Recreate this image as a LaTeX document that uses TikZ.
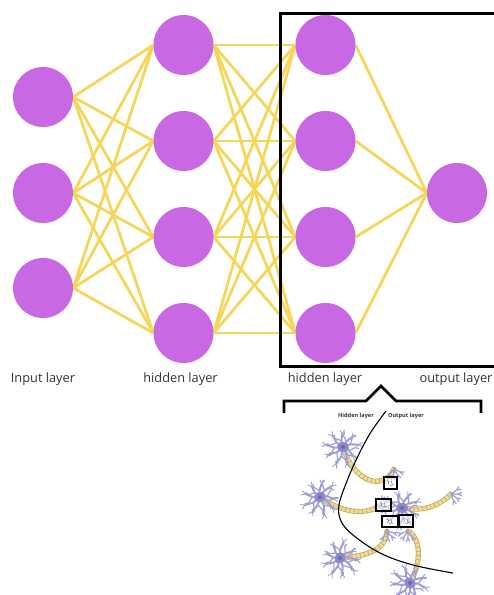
\documentclass[tikz,border=0pt]{standalone}
\usepackage{fontspec}
\setmainfont{Open Sans}
\definecolor{unitpurple}{HTML}{C868E2}
\definecolor{linkyellow}{HTML}{F6D65A}
\definecolor{labelgray}{HTML}{333333}
\definecolor{dendcol}{HTML}{A09ED8}
\definecolor{somacol}{HTML}{8C89CA}
\definecolor{corecol}{HTML}{6C69AE}
\definecolor{axonrim}{HTML}{C9AD5E}
\definecolor{axoncore}{HTML}{EEDC98}
\pgfdeclarelayer{bg}
\pgfsetlayers{bg,main}
\newcommand\beadedaxon[1]{\draw[axonout] #1; \draw[axonin] #1;}
\begin{document}
\begin{tikzpicture}[x=1pt,y=-1pt,
  unit/.style={circle, fill=unitpurple, minimum size=60pt, inner sep=0pt},
  link/.style={draw=linkyellow, line width=2.8pt},
  layerlabel/.style={font=\fontsize{12.8}{14}\selectfont, text=labelgray, anchor=base, inner sep=0pt},
  tinylabel/.style={font=\bfseries\fontsize{5.6}{6}\selectfont, text=labelgray, inner sep=0pt},
  dendrite/.style={draw=dendcol, line cap=round, line join=round},
  axonout/.style={draw=axonrim, line width=5.2pt, line cap=round},
  axonin/.style={draw=axoncore, line width=3.6pt, dash pattern=on 3.2pt off 1pt},
  synbox/.style={draw=black, line width=1.1pt, fill=white, fill opacity=0.55, text opacity=1, inner sep=0pt},
  synmark/.style={draw=gray!70!black, line width=0.45pt},
  neuron/.pic={
    \foreach \a/\l in {90/18,130/16,165/17,205/15,245/13,290/13,330/16,20/14,55/17} {
      \draw[dendrite, line width=2pt] (0,0) -- (\a:0.5*\l) -- (\a+12:\l);
      \draw[dendrite, line width=1.2pt] (\a:0.5*\l) -- (\a-28:0.9*\l) -- +(\a-5:3);
      \draw[dendrite, line width=0.9pt] (\a+12:\l) -- +(\a+45:4.5) (\a+12:\l) -- +(\a-15:4.5);
      \draw[dendrite, line width=0.8pt] (\a+6:0.75*\l) -- +(\a+55:4);
    }
    \fill[somacol] (0,0) ellipse (6 and 5);
    \fill[corecol] (0,0) circle (2);
  },
  tuft/.pic={
    \foreach \a in {-55,-20,15,50} {
      \draw[dendrite, line width=1.2pt] (0,0) -- (\a:7) -- +(\a+25:4) (\a:7) -- +(\a-25:4);
    }
  }
]
\useasboundingbox (0,0) rectangle (494,595);

% ---- artificial network ----
\node[unit] (i1) at (43,97) {};
\node[unit] (i2) at (43,193) {};
\node[unit] (i3) at (43,288) {};
\node[unit] (h1) at (183.5,45) {};
\node[unit] (h2) at (183.5,141) {};
\node[unit] (h3) at (183.5,237) {};
\node[unit] (h4) at (183.5,333) {};
\node[unit] (g1) at (325.5,45) {};
\node[unit] (g2) at (325.5,141) {};
\node[unit] (g3) at (325.5,237) {};
\node[unit] (g4) at (325.5,333) {};
\node[unit] (o) at (457,193) {};

\begin{pgfonlayer}{bg}
  \foreach \a in {1,2,3} \foreach \b in {1,...,4} \draw[link] (i\a.east) -- (h\b.west);
  \foreach \a in {1,...,4} \foreach \b in {1,...,4} \draw[link] (h\a.east) -- (g\b.west);
  \foreach \a in {1,...,4} \draw[link] (g\a.east) -- (o.west);
\end{pgfonlayer}

% frame round the last two layers
\draw[line width=3pt] (280,13) rectangle (495,366);

\node[layerlabel] (lin) at (43,382) {Input layer};
\node[layerlabel] (lh1) at (180.5,382) {hidden layer};
\node[layerlabel] (lh2) at (325,382) {hidden layer};
\node[layerlabel] (lout) at (456,382) {output layer};

% bracket
\draw[line width=2.6pt, line join=miter] (284,413) -- (284,401) -- (366,401) -- (381,386) -- (396,401) -- (481,401) -- (481,413);

% ---- biological counterpart ----
\node[tinylabel] (bh) at (356,416) {Hidden layer};
\node[tinylabel] (bo) at (406,416) {Output layer};

\coordinate (na) at (343,447);
\coordinate (nb) at (320,497);
\coordinate (nc) at (340,558);
\coordinate (nd) at (410,583);
\coordinate (ne) at (402,508);
\coordinate (ta) at (394,469);
\coordinate (tb) at (379,506);
\coordinate (tc) at (387,531);
\coordinate (td) at (408,531);
\coordinate (te) at (451,494);

\beadedaxon{(na) .. controls (355,485) and (385,490) .. (ta)}
\beadedaxon{(nb) .. controls (340,512) and (365,516) .. (tb)}
\beadedaxon{(nc) .. controls (365,556) and (385,552) .. (tc)}
\beadedaxon{(nd) .. controls (420,565) and (423,540) .. (td)}
\beadedaxon{(ne) .. controls (425,512) and (440,505) .. (te)}

\path (na) pic[rotate=-10]{neuron};
\path (nb) pic[rotate=25]{neuron};
\path (nc) pic[rotate=60]{neuron};
\path (nd) pic[rotate=-35]{neuron};
\path (ne) pic[rotate=5]{neuron};

\path (ta) pic[rotate=-80]{tuft};
\path (tb) pic[rotate=10]{tuft};
\path (tc) pic[rotate=-70]{tuft};
\path (td) pic[rotate=-110]{tuft};
\path (te) pic[rotate=-20]{tuft};

% synapse close-ups
\node[synbox, minimum width=13pt, minimum height=12pt] (s1) at (390.5,483) {};
\node[synbox, minimum width=15pt, minimum height=12pt] (s2) at (383.5,505) {};
\node[synbox, minimum width=16pt, minimum height=11pt] (s3) at (390,521.5) {};
\node[synbox, minimum width=14pt, minimum height=12pt] (s4) at (406,521) {};
\foreach \s in {s1,s2,s3,s4} {
  \draw[synmark] ([shift={(-3,-3)}]\s.center) -- ++(1.5,2) -- ++(-1,2.5);
  \draw[synmark] ([shift={(1,-2)}]\s.center) -- ++(0.5,3) -- ++(1.5,1);
  \draw[synmark] ([shift={(-1,2)}]\s.center) -- ++(2.5,0.5);
}

% boundary between the two biological layers
\draw[line width=1.1pt] plot[smooth, tension=0.6] coordinates {(386,411) (371,432) (358,456) (347,481) (339,505) (341,521) (353,535) (380,553) (413,565) (453,573)};
\end{tikzpicture}
\end{document}
